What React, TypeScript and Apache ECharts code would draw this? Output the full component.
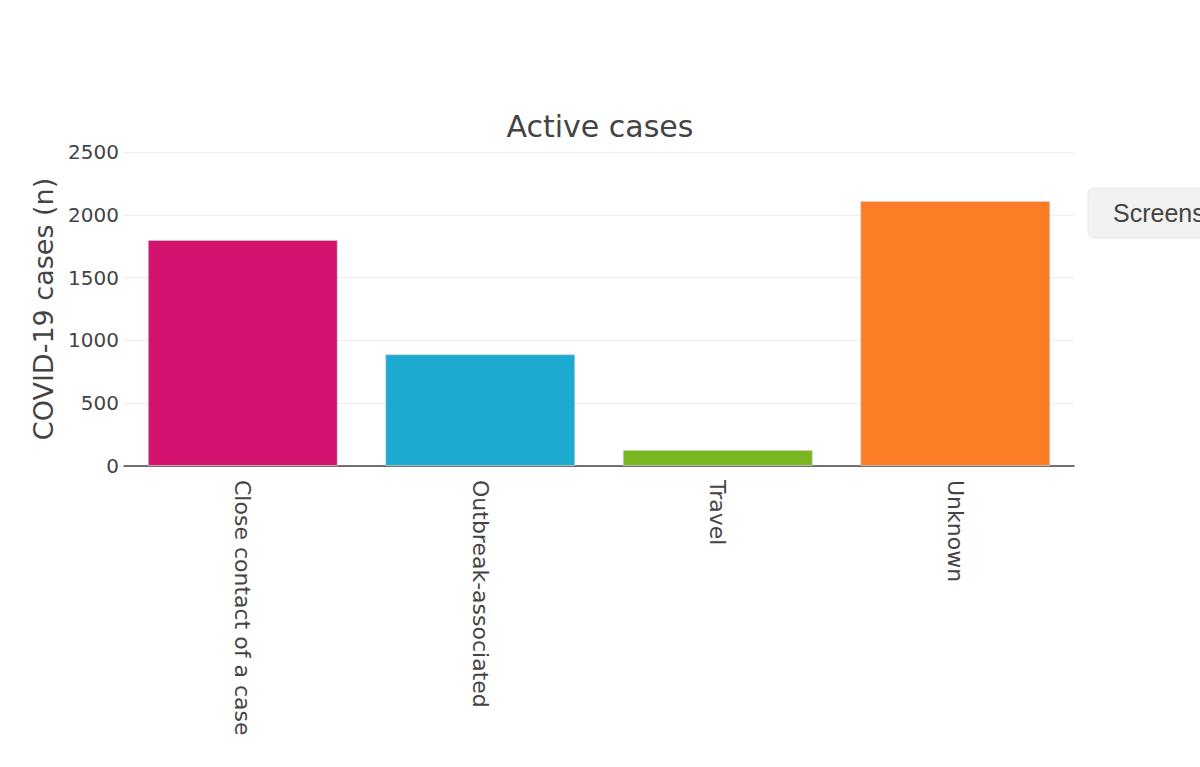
import React, { useEffect, useRef } from "react";
import * as echarts from "echarts";

const categories = ["Close contact of a case", "Outbreak-associated", "Travel", "Unknown"];
const values = [1800, 890, 128, 2110];
const barColors = ["#d4136f", "#1daad1", "#78b71f", "#fd7c26"];
const yTicks = { min: 0, max: 2500, interval: 500 };
const titleText = "Active cases";
const yAxisTitle = "COVID-19 cases (n)";

export default function App() {
  const ref = useRef<HTMLDivElement>(null);
  useEffect(() => {
    if (!ref.current) return;
    const chart = echarts.init(ref.current, null, { renderer: "svg" });
    const font = "'DejaVu Sans', Verdana, sans-serif";
    chart.setOption({
      animation: false,
      backgroundColor: "#ffffff",
      title: {
        text: titleText,
        left: "center",
        top: 106,
        textStyle: { fontFamily: font, fontSize: 30, fontWeight: "normal", color: "#444" },
      },
      grid: { left: 124, right: 126, top: 152, bottom: 301, containLabel: false },
      xAxis: {
        type: "category",
        data: categories,
        axisLine: { show: true, lineStyle: { color: "#444", width: 1.5 } },
        axisTick: { show: false },
        axisLabel: {
          rotate: -90,
          margin: 14,
          fontFamily: font,
          fontSize: 22,
          color: "#444",
          interval: 0,
        },
      },
      yAxis: {
        type: "value",
        min: yTicks.min,
        max: yTicks.max,
        interval: yTicks.interval,
        name: yAxisTitle,
        nameLocation: "middle",
        nameGap: 66,
        nameTextStyle: { fontFamily: font, fontSize: 27, color: "#444" },
        axisLine: { show: false },
        axisTick: { show: false },
        axisLabel: {
          fontFamily: font,
          fontSize: 20,
          color: "#444",
          margin: 5,
          formatter: (v: number) => String(v),
        },
        splitLine: { lineStyle: { color: "#eeeeee", width: 1 } },
      },
      series: [
        {
          type: "bar",
          barCategoryGap: "20%",
          data: values.map((v, i) => ({
            value: v,
            itemStyle: {
              color: barColors[i],
              borderColor: "rgba(210,210,210,0.7)",
              borderWidth: 1,
            },
          })),
        },
      ],
      graphic: [
        {
          type: "rect",
          shape: { x: 1088, y: 188, width: 140, height: 50, r: 6 },
          style: { fill: "#f2f2f2", stroke: "#e6e6e6", lineWidth: 1 },
        },
        {
          type: "text",
          x: 1113,
          y: 213,
          style: {
            text: "Screenshot",
            fontFamily: "'Liberation Sans', Arial, sans-serif",
            fontSize: 25,
            fill: "#444",
            verticalAlign: "middle",
          },
        },
      ],
    });
    return () => chart.dispose();
  }, []);
  return (
    <div
      ref={ref}
      style={{ position: "fixed", left: 0, top: 0, width: 1200, height: 767, overflow: "hidden" }}
    />
  );
}
